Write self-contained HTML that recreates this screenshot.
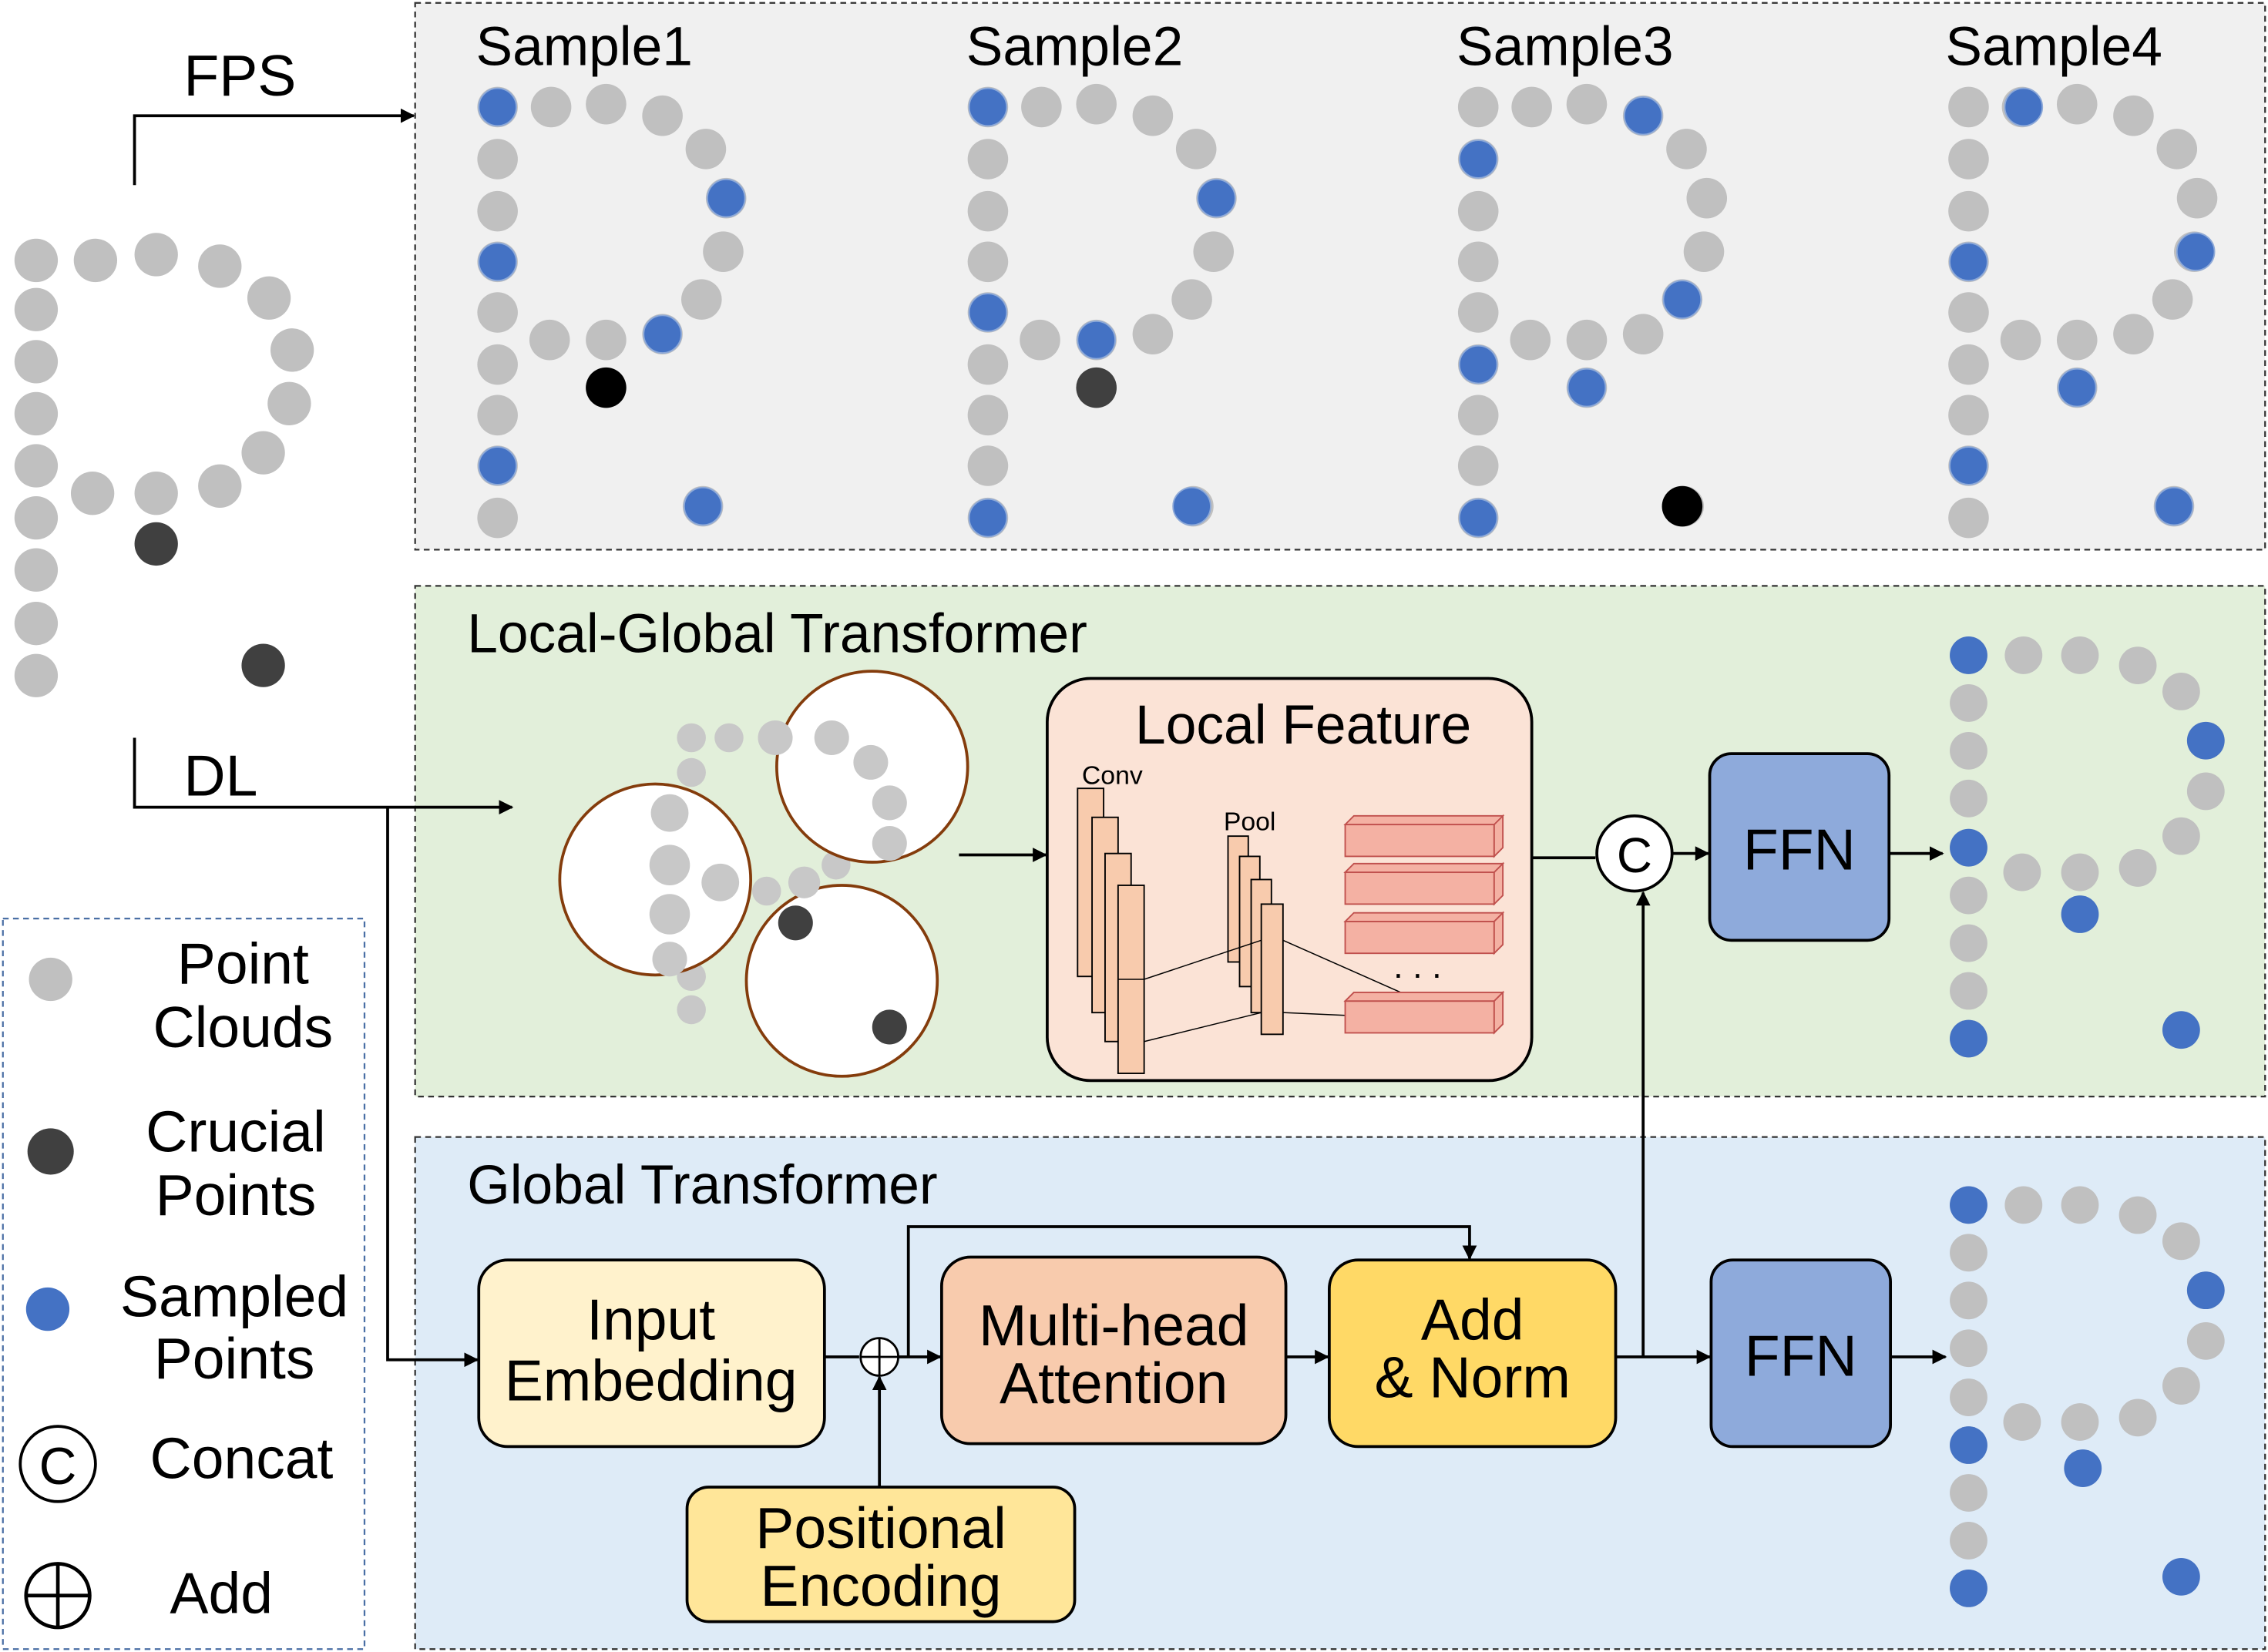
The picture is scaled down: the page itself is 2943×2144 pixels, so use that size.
<!DOCTYPE html>
<html><head><meta charset="utf-8"><style>html,body{margin:0;padding:0;background:#fff}svg{display:block}text{font-family:"Liberation Sans",sans-serif;fill:#000}</style></head><body>
<svg width="2943" height="2144" viewBox="0 0 1568 1142" preserveAspectRatio="none" xmlns="http://www.w3.org/2000/svg">
<defs>
<marker id="ah" markerWidth="10" markerHeight="10" refX="9" refY="5" orient="auto" markerUnits="userSpaceOnUse"><path d="M0,0 L10,5 L0,10 z" fill="#000"/></marker>
<g id="P" fill="#c0c0c0">
<circle cx="0" cy="0" r="14"/><circle cx="0" cy="36" r="14"/><circle cx="0" cy="72" r="14"/><circle cx="0" cy="107" r="14"/><circle cx="0" cy="142" r="14"/><circle cx="0" cy="178" r="14"/><circle cx="0" cy="213" r="14"/><circle cx="0" cy="248" r="14"/><circle cx="0" cy="284" r="14"/>
<circle cx="37" cy="0" r="14"/><circle cx="75" cy="-2" r="14"/><circle cx="114" cy="6" r="14"/><circle cx="144" cy="29" r="14"/><circle cx="158" cy="63" r="14"/><circle cx="156" cy="100" r="14"/><circle cx="141" cy="133" r="14"/><circle cx="114" cy="157" r="14"/><circle cx="75" cy="161" r="14"/><circle cx="36" cy="161" r="14"/>
</g>
<g id="P2" fill="#c0c0c0">
<circle cx="0" cy="0" r="13"/><circle cx="0" cy="33" r="13"/><circle cx="0" cy="66" r="13"/><circle cx="0" cy="99" r="13"/><circle cx="0" cy="133" r="13"/><circle cx="0" cy="166" r="13"/><circle cx="0" cy="199" r="13"/><circle cx="0" cy="232" r="13"/><circle cx="0" cy="265" r="13"/>
<circle cx="38" cy="0" r="13"/><circle cx="77" cy="0" r="13"/><circle cx="117" cy="7" r="13"/><circle cx="147" cy="25" r="13"/><circle cx="164" cy="59" r="13"/><circle cx="164" cy="94" r="13"/><circle cx="147" cy="125" r="13"/><circle cx="117" cy="147" r="13"/><circle cx="77" cy="150" r="13"/><circle cx="37" cy="150" r="13"/>
</g>
<g id="Pg" fill="#c0c0c0"><use href="#P"/><circle cx="75" cy="194" r="14"/><circle cx="142" cy="276" r="14"/></g>
</defs>
<rect x="287" y="2" width="1279" height="378" fill="#f0f0f0" stroke="#333" stroke-width="1.2" stroke-dasharray="4,3"/>
<rect x="287" y="405" width="1279" height="353" fill="#e2efda" stroke="#333" stroke-width="1.2" stroke-dasharray="4,3"/>
<rect x="287" y="786" width="1279" height="354" fill="#deebf7" stroke="#333" stroke-width="1.2" stroke-dasharray="4,3"/>
<rect x="2" y="635" width="250" height="505" fill="#fff" stroke="#4a6fa5" stroke-width="1.2" stroke-dasharray="4,3"/>
<g fill="#c0c0c0">
<circle cx="25" cy="180" r="15"/><circle cx="25" cy="214" r="15"/><circle cx="25" cy="250" r="15"/><circle cx="25" cy="286" r="15"/><circle cx="25" cy="322" r="15"/><circle cx="25" cy="358" r="15"/><circle cx="25" cy="394" r="15"/><circle cx="25" cy="431" r="15"/><circle cx="25" cy="467" r="15"/>
<circle cx="66" cy="180" r="15"/><circle cx="108" cy="176" r="15"/><circle cx="152" cy="184" r="15"/><circle cx="186" cy="206" r="15"/><circle cx="202" cy="242" r="15"/><circle cx="200" cy="279" r="15"/><circle cx="182" cy="313" r="15"/><circle cx="152" cy="336" r="15"/><circle cx="108" cy="341" r="15"/><circle cx="64" cy="341" r="15"/>
</g>
<circle cx="108" cy="376" r="15" fill="#404040"/><circle cx="182" cy="460" r="15" fill="#404040"/>
<text x="329" y="45" font-size="38">Sample1</text><text x="668" y="45" font-size="38">Sample2</text><text x="1007" y="45" font-size="38">Sample3</text><text x="1345" y="45" font-size="38">Sample4</text>
<use href="#Pg" x="344" y="74"/><use href="#Pg" x="683" y="74"/><use href="#Pg" x="1022" y="74"/><use href="#Pg" x="1361" y="74"/>
<g fill="#4472c4" stroke="#8da9d8" stroke-width="1">
<circle cx="344" cy="74" r="13"/><circle cx="344" cy="181" r="13"/><circle cx="344" cy="322" r="13"/><circle cx="502" cy="137" r="13"/><circle cx="458" cy="231" r="13"/><circle cx="486" cy="350" r="13"/>
<circle cx="683" cy="74" r="13"/><circle cx="683" cy="216" r="13"/><circle cx="683" cy="358" r="13"/><circle cx="841" cy="137" r="13"/><circle cx="758" cy="235" r="13"/><circle cx="824" cy="350" r="13"/>
<circle cx="1136" cy="80" r="13"/><circle cx="1022" cy="110" r="13"/><circle cx="1022" cy="252" r="13"/><circle cx="1022" cy="358" r="13"/><circle cx="1163" cy="207" r="13"/><circle cx="1097" cy="268" r="13"/>
<circle cx="1399" cy="74" r="13"/><circle cx="1361" cy="181" r="13"/><circle cx="1361" cy="322" r="13"/><circle cx="1518" cy="174" r="13"/><circle cx="1436" cy="268" r="13"/><circle cx="1503" cy="350" r="13"/>
</g>
<circle cx="419" cy="268" r="14" fill="#000"/><circle cx="758" cy="268" r="14" fill="#404040"/><circle cx="1163" cy="350" r="14" fill="#000"/>
<text x="127" y="66" font-size="40">FPS</text>
<path d="M93,128 V80 H286" fill="none" stroke="#000" stroke-width="2" marker-end="url(#ah)"/>
<text x="127" y="550" font-size="40">DL</text>
<path d="M93,510 V558 H354" fill="none" stroke="#000" stroke-width="2" marker-end="url(#ah)"/>
<path d="M268,558 V940 H330" fill="none" stroke="#000" stroke-width="2" marker-end="url(#ah)"/>
<text x="323" y="451" font-size="38">Local-Global Transformer</text>
<g fill="#c8c8c8">
<circle cx="478" cy="510" r="10"/><circle cx="504" cy="510" r="10"/><circle cx="478" cy="534" r="10"/><circle cx="478" cy="675" r="10"/><circle cx="478" cy="698" r="10"/><circle cx="530" cy="616" r="10"/><circle cx="578" cy="598" r="10"/>
</g>
<circle cx="603" cy="530" r="66" fill="#fff" stroke="#843c0c" stroke-width="2"/>
<circle cx="453" cy="608" r="66" fill="#fff" stroke="#843c0c" stroke-width="2"/>
<circle cx="582" cy="678" r="66" fill="#fff" stroke="#843c0c" stroke-width="2"/>
<g fill="#c8c8c8">
<circle cx="536" cy="510" r="12"/><circle cx="575" cy="510" r="12"/><circle cx="602" cy="527" r="12"/><circle cx="615" cy="555" r="12"/><circle cx="615" cy="583" r="12"/>
<circle cx="463" cy="562" r="13"/><circle cx="463" cy="598" r="14"/><circle cx="463" cy="632" r="14"/><circle cx="463" cy="663" r="12"/><circle cx="498" cy="610" r="13"/><circle cx="556" cy="610" r="11"/>
</g>
<circle cx="550" cy="638" r="12" fill="#404040"/><circle cx="615" cy="710" r="12" fill="#404040"/>
<path d="M663,591 H723" stroke="#000" stroke-width="2" marker-end="url(#ah)"/>
<rect x="724" y="469" width="335" height="278" rx="30" fill="#fbe3d6" stroke="#000" stroke-width="2"/>
<text x="901" y="514" font-size="38" text-anchor="middle">Local Feature</text>
<text x="748" y="542" font-size="18">Conv</text><text x="846" y="574" font-size="18">Pool</text>
<g fill="#f8cbad" stroke="#000" stroke-width="1">
<rect x="745" y="545" width="18" height="130"/><rect x="755" y="565" width="18" height="135"/><rect x="764" y="590" width="18" height="130"/><rect x="773" y="612" width="18" height="130"/>
<rect x="849" y="578" width="14" height="87"/><rect x="857" y="592" width="14" height="90"/><rect x="865" y="608" width="14" height="92"/><rect x="872" y="625" width="15" height="90"/>
</g>
<g stroke="#000" stroke-width="0.8" fill="none"><path d="M791,677 L872,650 M791,720 L872,700 M887,650 L1000,700 M887,700 L1000,705 M773,677 H791"/></g>
<g fill="#f4b1a3" stroke="#c0504d" stroke-width="1">
<rect x="930" y="570" width="103" height="22"/><rect x="930" y="603" width="103" height="22"/><rect x="930" y="637" width="103" height="22"/><rect x="930" y="692" width="103" height="22"/>
<path d="M930,570 l6,-6 h103 l-6,6 z M1033,570 l6,-6 v22 l-6,6 z M930,603 l6,-6 h103 l-6,6 z M1033,603 l6,-6 v22 l-6,6 z M930,637 l6,-6 h103 l-6,6 z M1033,637 l6,-6 v22 l-6,6 z M930,692 l6,-6 h103 l-6,6 z M1033,692 l6,-6 v22 l-6,6 z"/>
</g>
<text x="980" y="676" font-size="24" text-anchor="middle">. . .</text>
<path d="M1059,593 H1103" stroke="#000" stroke-width="2"/>
<circle cx="1130" cy="590" r="26" fill="#fff" stroke="#000" stroke-width="2"/>
<text x="1130" y="603" font-size="34" text-anchor="middle">C</text>
<path d="M1156,590 H1181" stroke="#000" stroke-width="2" marker-end="url(#ah)"/>
<rect x="1182" y="521" width="124" height="129" rx="15" fill="#8eaadb" stroke="#000" stroke-width="2"/>
<text x="1244" y="601" font-size="40" text-anchor="middle">FFN</text>
<path d="M1306,590 H1343" stroke="#000" stroke-width="2" marker-end="url(#ah)"/>
<use href="#P2" x="1361" y="453"/>
<g fill="#4472c4"><circle cx="1361" cy="453" r="13"/><circle cx="1525" cy="512" r="13"/><circle cx="1361" cy="586" r="13"/><circle cx="1438" cy="632" r="13"/><circle cx="1361" cy="718" r="13"/><circle cx="1508" cy="712" r="13"/></g>
<text x="323" y="832" font-size="38">Global Transformer</text>
<rect x="331" y="871" width="239" height="129" rx="20" fill="#fff2cc" stroke="#000" stroke-width="2"/>
<text x="450" y="926" font-size="40" text-anchor="middle">Input</text><text x="450" y="968" font-size="40" text-anchor="middle">Embedding</text>
<path d="M570,938 H594" stroke="#000" stroke-width="2"/>
<circle cx="608" cy="938" r="13" fill="#fff" stroke="#000" stroke-width="1.5"/><path d="M595,938 H621 M608,925 V951" stroke="#000" stroke-width="1.5"/>
<path d="M621,938 H650" stroke="#000" stroke-width="2" marker-end="url(#ah)"/>
<path d="M628,938 V848 H1016 V870" fill="none" stroke="#000" stroke-width="2" marker-end="url(#ah)"/>
<path d="M608,1028 V952" stroke="#000" stroke-width="2" marker-end="url(#ah)"/>
<rect x="651" y="869" width="238" height="129" rx="20" fill="#f8cbad" stroke="#000" stroke-width="2"/>
<text x="770" y="930" font-size="40" text-anchor="middle">Multi-head</text><text x="770" y="970" font-size="40" text-anchor="middle">Attention</text>
<path d="M889,938 H918" stroke="#000" stroke-width="2" marker-end="url(#ah)"/>
<rect x="919" y="871" width="198" height="129" rx="20" fill="#ffd966" stroke="#000" stroke-width="2"/>
<text x="1018" y="926" font-size="40" text-anchor="middle">Add</text><text x="1018" y="966" font-size="40" text-anchor="middle">&amp; Norm</text>
<path d="M1117,938 H1182" stroke="#000" stroke-width="2" marker-end="url(#ah)"/>
<path d="M1136,938 V617" stroke="#000" stroke-width="2" marker-end="url(#ah)"/>
<rect x="1183" y="871" width="124" height="129" rx="15" fill="#8eaadb" stroke="#000" stroke-width="2"/>
<text x="1245" y="951" font-size="40" text-anchor="middle">FFN</text>
<path d="M1307,938 H1345" stroke="#000" stroke-width="2" marker-end="url(#ah)"/>
<rect x="475" y="1028" width="268" height="93" rx="15" fill="#ffe699" stroke="#000" stroke-width="2"/>
<text x="609" y="1070" font-size="40" text-anchor="middle">Positional</text><text x="609" y="1110" font-size="40" text-anchor="middle">Encoding</text>
<use href="#P2" x="1361" y="833"/>
<g fill="#4472c4"><circle cx="1361" cy="833" r="13"/><circle cx="1525" cy="892" r="13"/><circle cx="1361" cy="999" r="13"/><circle cx="1440" cy="1015" r="13"/><circle cx="1361" cy="1098" r="13"/><circle cx="1508" cy="1090" r="13"/></g>
<circle cx="35" cy="677" r="15" fill="#c0c0c0"/>
<text x="168" y="680" font-size="40" text-anchor="middle">Point</text><text x="168" y="724" font-size="40" text-anchor="middle">Clouds</text>
<circle cx="35" cy="796" r="16" fill="#404040"/>
<text x="163" y="796" font-size="40" text-anchor="middle">Crucial</text><text x="163" y="840" font-size="40" text-anchor="middle">Points</text>
<circle cx="33" cy="905" r="15" fill="#4472c4"/>
<text x="162" y="910" font-size="40" text-anchor="middle">Sampled</text><text x="162" y="953" font-size="40" text-anchor="middle">Points</text>
<circle cx="40" cy="1012" r="26" fill="#fff" stroke="#000" stroke-width="2"/><text x="40" y="1026" font-size="36" text-anchor="middle">C</text>
<text x="167" y="1022" font-size="40" text-anchor="middle">Concat</text>
<circle cx="40" cy="1103" r="22" fill="#fff" stroke="#000" stroke-width="2.5"/><path d="M18,1103 H62 M40,1081 V1125" stroke="#000" stroke-width="2.5"/>
<text x="153" y="1115" font-size="40" text-anchor="middle">Add</text>
</svg>
</body></html>
